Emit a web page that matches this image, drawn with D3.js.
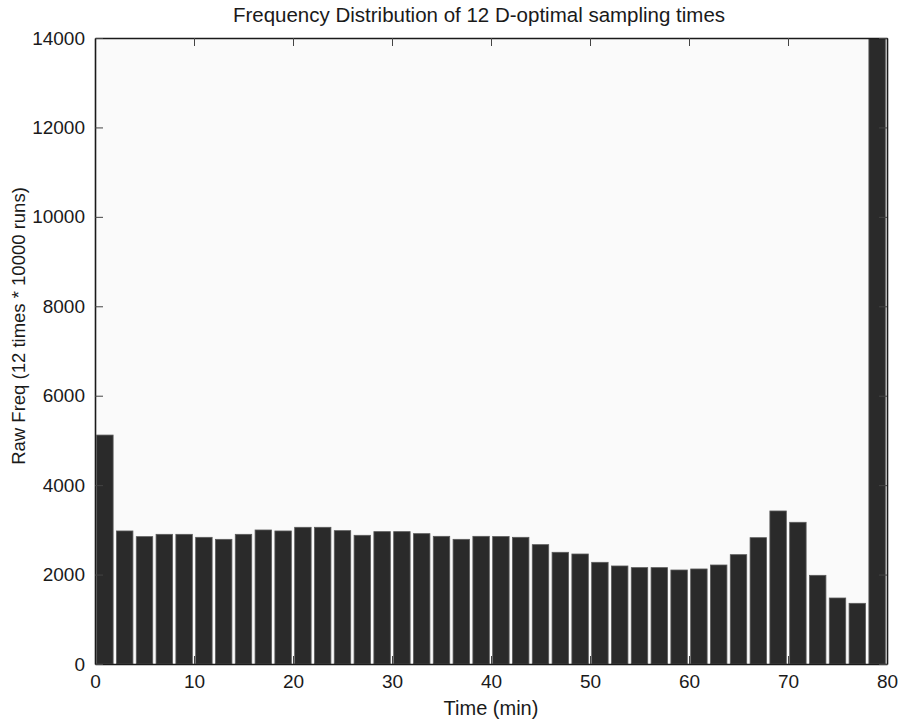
<!DOCTYPE html>
<html>
<head>
<meta charset="utf-8">
<script src="https://cdn.jsdelivr.net/npm/d3@7"></script>
<style>
  html, body { margin: 0; padding: 0; background: #ffffff; }
  svg { display: block; font-family: "Liberation Sans", Arial, Helvetica, sans-serif; }
</style>
</head>
<body>
<svg id="chart" width="898" height="724"></svg>
<script>
// Histogram bin centres (minutes) and raw counts of chosen sampling times
const binCenters = [1, 3, 5, 7, 9, 11, 13, 15, 17, 19, 21, 23, 25, 27, 29, 31, 33, 35, 37, 39,
                    41, 43, 45, 47, 49, 51, 53, 55, 57, 59, 61, 63, 65, 67, 69, 71, 73, 75, 77, 79];
const counts = [5120, 2975, 2848, 2900, 2900, 2833, 2788, 2900, 2997, 2975,
                3057, 3057, 2982, 2878, 2960, 2960, 2915, 2855, 2788, 2855,
                2850, 2833, 2669, 2498, 2460, 2274, 2192, 2155, 2155, 2102,
                2125, 2214, 2445, 2825, 3422, 3169, 1983, 1476, 1357, 14250];
const xTicks = [0, 10, 20, 30, 40, 50, 60, 70, 80];
const yTicks = [0, 2000, 4000, 6000, 8000, 10000, 12000, 14000];

const titleText = "Frequency Distribution of 12 D-optimal sampling times";
const xLabelText = "Time (min)";
const yLabelText = "Raw Freq (12 times * 10000 runs)";

const W = 898, H = 724;
const margin = { top: 38, right: 11, bottom: 60, left: 95 };
const plotW = W - margin.left - margin.right;
const plotH = H - margin.top - margin.bottom;

const svg = d3.select("#chart");

const x = d3.scaleLinear().domain([0, 80]).range([margin.left, margin.left + plotW]);
const y = d3.scaleLinear().domain([0, 14000]).range([margin.top + plotH, margin.top]);
const binWidth = 1.66;

// plot background
svg.append("rect")
  .attr("x", margin.left).attr("y", margin.top)
  .attr("width", plotW).attr("height", plotH)
  .attr("fill", "#fafafa");

svg.append("clipPath").attr("id", "plotClip")
  .append("rect")
  .attr("x", margin.left).attr("y", margin.top)
  .attr("width", plotW).attr("height", plotH);

// bars (the last bin exceeds the y range and is clipped at the top)
svg.append("g").attr("clip-path", "url(#plotClip)")
  .selectAll("rect")
  .data(binCenters.map((c, i) => ({ c, v: counts[i] })))
  .join("rect")
  .attr("x", d => x(d.c - binWidth / 2))
  .attr("width", d => x(d.c + binWidth / 2) - x(d.c - binWidth / 2))
  .attr("y", d => y(d.v))
  .attr("height", d => y(0) - y(d.v))
  .attr("fill", "#2a2a2a")
  .attr("stroke", "#5a5a5a")
  .attr("stroke-width", 0.8);

const tickLen = 8;
const axisColor = "#1a1a1a";

// axes with inward ticks on all four sides
const axes = svg.append("g");
axes.append("g")
  .attr("transform", `translate(0,${margin.top + plotH})`)
  .call(d3.axisBottom(x).tickValues(xTicks).tickSizeInner(-tickLen).tickSizeOuter(0).tickPadding(11));
axes.append("g")
  .attr("transform", `translate(0,${margin.top})`)
  .call(d3.axisTop(x).tickValues(xTicks).tickSizeInner(-tickLen).tickSizeOuter(0).tickFormat(""));
axes.append("g")
  .attr("transform", `translate(${margin.left},0)`)
  .call(d3.axisLeft(y).tickValues(yTicks).tickSizeInner(-tickLen).tickSizeOuter(0).tickPadding(10).tickFormat(d3.format("d")));
axes.append("g")
  .attr("transform", `translate(${margin.left + plotW},0)`)
  .call(d3.axisRight(y).tickValues(yTicks).tickSizeInner(-tickLen).tickSizeOuter(0).tickFormat(""));

axes.selectAll(".domain").attr("stroke", axisColor).attr("stroke-width", 1.6);
axes.selectAll(".tick line").attr("stroke", "#444").attr("stroke-width", 1);
axes.selectAll(".tick text")
  .attr("fill", "#1a1a1a")
  .style("font-size", "19px")
  .style("font-family", "'Liberation Sans', Arial, Helvetica, sans-serif");

// titles
svg.append("text")
  .attr("x", 479).attr("y", 22)
  .attr("text-anchor", "middle")
  .attr("fill", "#1a1a1a")
  .style("font-size", "20.5px")
  .text(titleText);

svg.append("text")
  .attr("x", margin.left + plotW / 2).attr("y", 715)
  .attr("text-anchor", "middle")
  .attr("fill", "#1a1a1a")
  .style("font-size", "20px")
  .text(xLabelText);

svg.append("text")
  .attr("transform", `translate(25,326) rotate(-90)`)
  .attr("text-anchor", "middle")
  .attr("fill", "#1a1a1a")
  .style("font-size", "18.5px")
  .text(yLabelText);
</script>
</body>
</html>
